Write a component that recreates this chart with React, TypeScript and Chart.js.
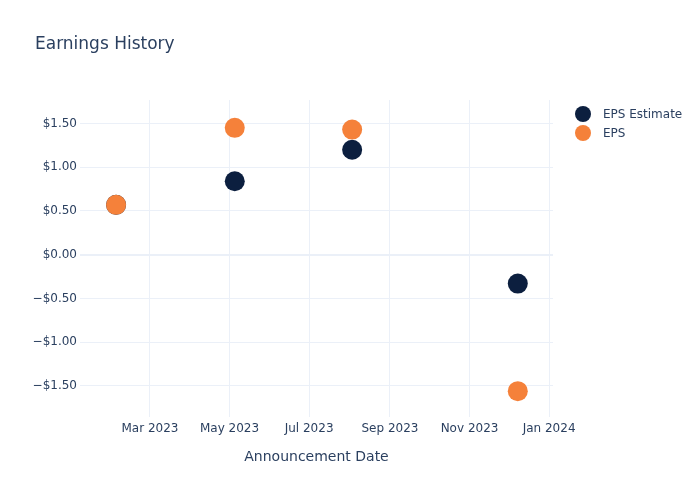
import React, { useEffect, useRef } from "react";
import { Chart, registerables } from "chart.js";

Chart.register(...registerables);

const announcementDates = ["2023-02-03", "2023-05-05", "2023-08-03", "2023-12-08"];
const epsEstimate = [0.57, 0.84, 1.2, -0.33];
const epsActual = [0.57, 1.45, 1.43, -1.56];
const xTickDates = ["2023-03-01", "2023-05-01", "2023-07-01", "2023-09-01", "2023-11-01", "2024-01-01"];
const xTickLabels = ["Mar 2023", "May 2023", "Jul 2023", "Sep 2023", "Nov 2023", "Jan 2024"];
const yTickValues = [-1.5, -1, -0.5, 0, 0.5, 1, 1.5];

const TITLE = "Earnings History";
const X_TITLE = "Announcement Date";
const FONT = "'DejaVu Sans', 'Open Sans', Verdana, sans-serif";
const TEXT_COLOR = "#2a3f5f";
const GRID = "#ebf0f8";
const NAVY = "#0c1f3f";
const ORANGE = "#f5813a";

const toMs = (d: string) => Date.parse(d + "T00:00:00Z");

const fmtMoney = (v: number) => {
  const s = "$" + Math.abs(v).toFixed(2);
  return v < 0 ? "\u2212" + s : s;
};

const decorPlugin = {
  id: "decor",
  afterDraw(chart: any) {
    const ctx = chart.ctx;
    const area = chart.chartArea;
    ctx.save();
    ctx.fillStyle = TEXT_COLOR;
    ctx.textBaseline = "middle";
    ctx.textAlign = "left";
    ctx.font = `17px ${FONT}`;
    ctx.fillText(TITLE, 35, 45);
    ctx.font = `14px ${FONT}`;
    ctx.textAlign = "center";
    ctx.fillText(X_TITLE, (area.left + area.right) / 2, 457);
    // legend
    ctx.font = `12px ${FONT}`;
    ctx.textAlign = "left";
    chart.data.datasets.forEach((ds: any, i: number) => {
      const y = 114 + i * 19;
      ctx.beginPath();
      ctx.arc(583, y, 8, 0, Math.PI * 2);
      ctx.fillStyle = ds.backgroundColor;
      ctx.fill();
      ctx.fillStyle = TEXT_COLOR;
      ctx.fillText(ds.label, 603, y + 1);
    });
    ctx.restore();
  },
};

export default function App() {
  const ref = useRef<HTMLCanvasElement | null>(null);
  useEffect(() => {
    if (!ref.current) return;
    const xs = announcementDates.map(toMs);
    const chart = new Chart(ref.current, {
      type: "scatter",
      data: {
        datasets: [
          {
            label: "EPS Estimate",
            data: xs.map((x, i) => ({ x, y: epsEstimate[i] })),
            backgroundColor: NAVY,
            borderColor: NAVY,
            pointRadius: 10,
            pointHoverRadius: 10,
            borderWidth: 0,
            order: 2,
          },
          {
            label: "EPS",
            data: xs.map((x, i) => ({ x, y: epsActual[i] })),
            backgroundColor: ORANGE,
            borderColor: ORANGE,
            pointRadius: 10,
            pointHoverRadius: 10,
            borderWidth: 0,
            order: 1,
          },
        ],
      },
      options: {
        animation: false,
        responsive: false,
        maintainAspectRatio: false,
        layout: { padding: { left: 0, top: 100, right: 147, bottom: 0 } },
        plugins: {
          legend: { display: false },
          title: { display: false },
          tooltip: { enabled: false },
        },
        scales: {
          x: {
            type: "linear",
            min: Date.UTC(2023, 0, 6, 8),
            max: Date.UTC(2024, 0, 4),
            afterFit: (s: any) => {
              s.height = 83;
            },
            afterBuildTicks: (s: any) => {
              s.ticks = xTickDates.map((d) => ({ value: toMs(d) }));
            },
            ticks: {
              autoSkip: false,
              maxRotation: 0,
              padding: 5,
              color: TEXT_COLOR,
              font: { family: FONT, size: 12 },
              callback: (v: any) => {
                const idx = xTickDates.findIndex((d) => toMs(d) === v);
                return idx >= 0 ? xTickLabels[idx] : "";
              },
            },
            grid: { color: GRID, lineWidth: 1, drawTicks: false },
            border: { display: false },
          },
          y: {
            type: "linear",
            min: -1.855,
            max: 1.768,
            afterFit: (s: any) => {
              s.width = 80;
            },
            afterBuildTicks: (s: any) => {
              s.ticks = yTickValues.map((v) => ({ value: v }));
            },
            ticks: {
              padding: 3,
              color: TEXT_COLOR,
              font: { family: FONT, size: 12 },
              callback: (v: any) => fmtMoney(Number(v)),
            },
            grid: {
              color: GRID,
              lineWidth: (c: any) => (c.tick && c.tick.value === 0 ? 2 : 1),
              drawTicks: false,
            },
            border: { display: false },
          },
        },
      },
      plugins: [decorPlugin],
    });
    return () => chart.destroy();
  }, []);
  return (
    <div style={{ position: "absolute", left: 0, top: 0, width: 700, height: 500, background: "#fff" }}>
      <canvas ref={ref} width={700} height={500} style={{ width: 700, height: 500 }} />
    </div>
  );
}
